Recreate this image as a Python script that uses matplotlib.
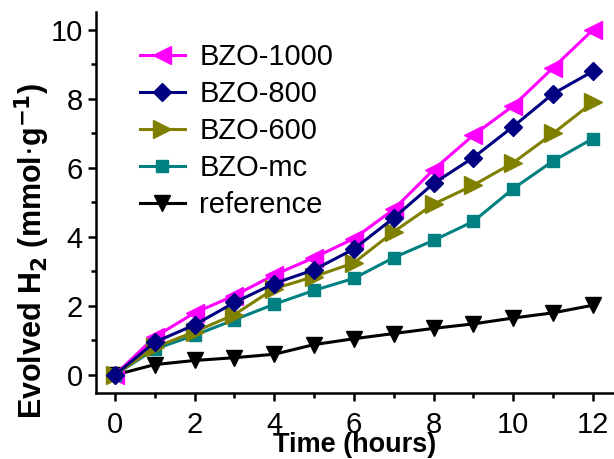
import matplotlib.pyplot as plt
from matplotlib.ticker import MultipleLocator

# --- Data ---
hours = [0, 1, 2, 3, 4, 5, 6, 7, 8, 9, 10, 11, 12]
bzo_1000 = [0, 1.10, 1.80, 2.30, 2.90, 3.40, 3.95, 4.80, 5.95, 6.95, 7.80, 8.90, 10.00]
bzo_800 = [0, 0.95, 1.45, 2.10, 2.65, 3.05, 3.65, 4.55, 5.55, 6.30, 7.20, 8.15, 8.80]
bzo_600 = [0, 0.80, 1.25, 1.75, 2.50, 2.85, 3.25, 4.15, 4.95, 5.50, 6.15, 7.00, 7.90]
bzo_mc = [0, 0.75, 1.15, 1.60, 2.05, 2.45, 2.80, 3.40, 3.90, 4.45, 5.40, 6.20, 6.85]
reference = [0, 0.30, 0.42, 0.50, 0.60, 0.88, 1.05, 1.20, 1.35, 1.48, 1.65, 1.80, 2.02]

plt.rcParams["font.family"] = ["Liberation Sans", "DejaVu Sans"]

fig = plt.figure(figsize=(6.14, 4.59), dpi=100)
ax = fig.add_axes([0.156, 0.144, 0.844, 0.830])

lw = 2.2
ax.plot(hours, bzo_1000, "-<", color="#FF00FF", lw=lw, ms=12.5, label="BZO-1000", zorder=3)
ax.plot(hours, bzo_800, "-D", color="#000080", lw=lw, ms=9, label="BZO-800", zorder=5)
ax.plot(hours, bzo_600, "->", color="#808000", lw=lw, ms=12.5, label="BZO-600", zorder=4)
ax.plot(hours, bzo_mc, "-s", color="#008080", lw=lw, ms=9, label="BZO-mc", zorder=3)
ax.plot(hours, reference, "-v", color="black", lw=lw, ms=12, label="reference", zorder=2)

# --- Axes style ---
ax.set_xlim(-0.48, 12.53)
ax.set_ylim(-0.52, 10.52)
ax.xaxis.set_major_locator(MultipleLocator(2))
ax.xaxis.set_minor_locator(MultipleLocator(1))
ax.yaxis.set_major_locator(MultipleLocator(2))
ax.yaxis.set_minor_locator(MultipleLocator(1))
for side in ["top", "right"]:
    ax.spines[side].set_visible(False)
for side in ["left", "bottom"]:
    ax.spines[side].set_linewidth(1.8)
ax.tick_params(which="major", direction="out", length=5.8, width=1.8, labelsize=21)
ax.tick_params(which="minor", direction="out", length=3.5, width=1.8)
ax.tick_params(axis="y", pad=3.5)
ax.tick_params(axis="x", pad=7.5)

ax.set_xlabel("Time (hours)", fontsize=19.5, fontweight="bold", labelpad=-5.5)
ax.set_ylabel(r"Evolved H$_\mathbf{2}$ (mmol$\cdot$g$^{\mathbf{-1}}$)", fontsize=22,
              fontweight="bold")
ax.yaxis.set_label_coords(-0.084, 0.372)

ax.legend(loc="upper left", bbox_to_anchor=(0.228, 0.906), bbox_transform=fig.transFigure,
          frameon=False, fontsize=21, handlelength=1.54, handletextpad=0.5,
          labelspacing=0.31, borderpad=0, borderaxespad=0)

fig.savefig("out.png", dpi=100)
